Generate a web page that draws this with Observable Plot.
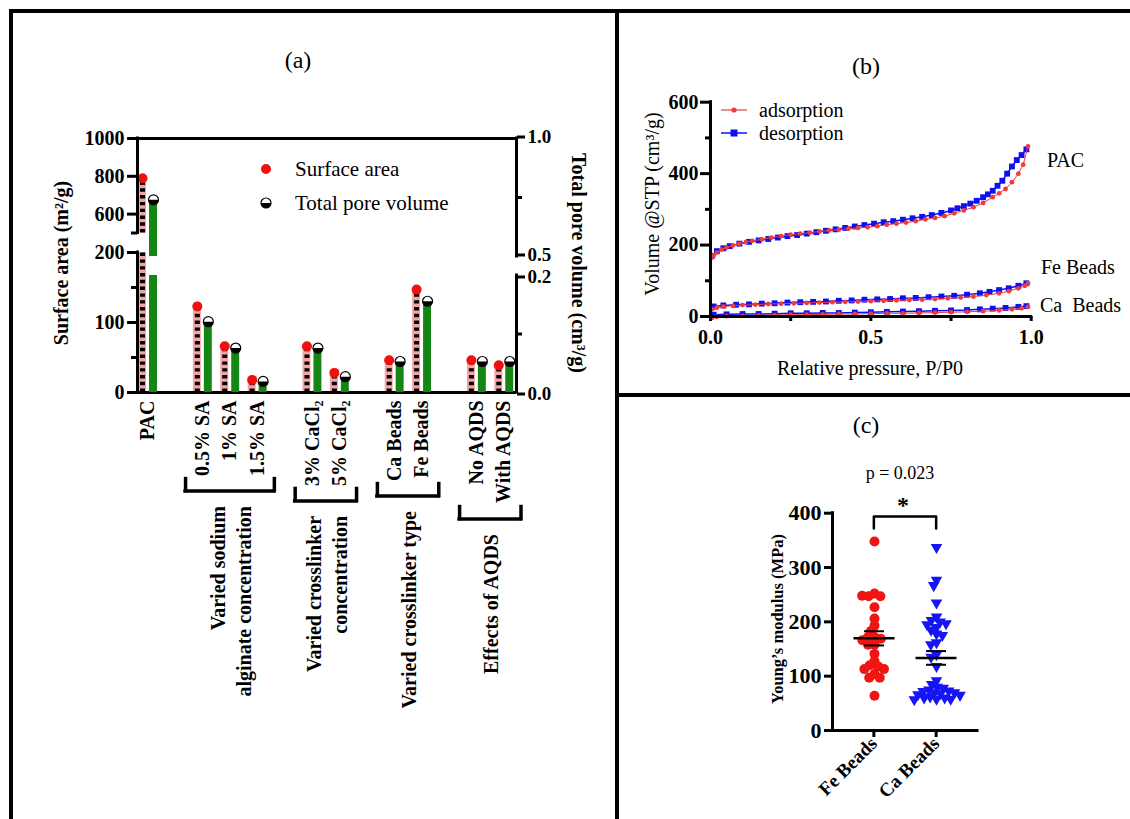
<!DOCTYPE html>
<html>
<head>
<meta charset="utf-8">
<script src="https://cdn.jsdelivr.net/npm/d3@7"></script>
<script src="https://cdn.jsdelivr.net/npm/@observablehq/plot@0.6"></script>
<style>
  html, body { margin: 0; padding: 0; background: #fff; }
  #fig { position: relative; width: 1130px; height: 819px; overflow: hidden; background: #fff;
         font-family: "Liberation Serif", "Times New Roman", serif; color: #000; }
  .rule { position: absolute; background: #000; }
  .lbl { position: absolute; white-space: pre; line-height: 1; }
</style>
</head>
<body>
<div id="fig"></div>
<script>
// ================= DATA =================
// (a) surface area / total pore volume
const categories = ["PAC", "0.5% SA", "1% SA", "1.5% SA", "3% CaCl₂", "5% CaCl₂", "Ca Beads", "Fe Beads", "No AQDS", "With AQDS"];
const categoryGroup = [0, 1, 1, 1, 2, 2, 3, 3, 4, 4];
const groupTitles = ["", "Varied sodium\nalginate concentration", "Varied crosslinker\nconcentration", "Varied crosslinker type", "Effects of AQDS"];
const surfaceArea = [790, 123, 66, 18, 66, 28, 46, 147, 46, 39];
const poreVolume = [0.74, 0.121, 0.076, 0.019, 0.076, 0.027, 0.053, 0.156, 0.053, 0.053];
const surfaceTicks = [0, 100, 200, 600, 800, 1000];
const surfaceMinorTicks = [50, 150, 500];
const surfaceBreak = [200, 500];
const surfaceMax = 1000;
const poreTicksLower = [0, 0.2];
const poreTicksUpper = [0.5, 1.0];
const poreMinorTicks = [0.1, 0.75];
const poreBreak = [0.2, 0.5];
const poreMax = 1.0;

// (b) N2 isotherms
const pressureTicks = [0, 0.5, 1.0];
const pressureMinorTicks = [0.25, 0.75];
const volumeTicks = [0, 200, 400, 600];
const volumeMinorTicks = [100, 300, 500];
const pacAdsP = [0.005, 0.01, 0.02, 0.035, 0.05, 0.07, 0.09, 0.11, 0.13, 0.16, 0.19, 0.22, 0.25, 0.28, 0.31, 0.34, 0.37, 0.40, 0.43, 0.46, 0.49, 0.52, 0.55, 0.58, 0.61, 0.64, 0.67, 0.70, 0.73, 0.76, 0.79, 0.82, 0.85, 0.88, 0.90, 0.92, 0.94, 0.96, 0.975, 0.99];
const pacAdsV = [165, 171, 179, 187, 193, 199, 204, 208, 212, 216, 221, 225, 229, 232, 235, 238, 241, 243, 246, 248, 250, 253, 257, 260, 263, 267, 272, 276, 281, 289, 297, 306, 318, 334, 345, 357, 376, 400, 425, 476];
const pacDesP = [0.985, 0.97, 0.955, 0.94, 0.925, 0.91, 0.895, 0.88, 0.865, 0.85, 0.83, 0.81, 0.79, 0.77, 0.75, 0.72, 0.69, 0.66, 0.63, 0.60, 0.57, 0.54, 0.51, 0.48, 0.45, 0.42, 0.39, 0.36, 0.33, 0.30, 0.27, 0.24, 0.21, 0.18, 0.15, 0.12, 0.09, 0.06, 0.04, 0.02, 0.005];
const pacDesV = [468, 452, 438, 420, 400, 380, 366, 352, 342, 334, 324, 316, 309, 303, 297, 290, 284, 279, 275, 271, 267, 264, 260, 256, 252, 248, 244, 240, 236, 232, 228, 225, 221, 217, 213, 209, 204, 197, 191, 183, 170];
const feAdsP = [0.005, 0.02, 0.04, 0.07, 0.10, 0.14, 0.18, 0.22, 0.26, 0.30, 0.34, 0.38, 0.42, 0.46, 0.50, 0.54, 0.58, 0.62, 0.66, 0.70, 0.74, 0.78, 0.82, 0.86, 0.90, 0.93, 0.96, 0.98, 0.99];
const feAdsV = [20, 25, 28, 30, 32, 33, 35, 36, 37, 38, 39, 40, 41, 42, 43, 44, 45, 46, 47, 49, 51, 53, 56, 60, 65, 71, 79, 86, 93];
const feDesP = [0.985, 0.96, 0.93, 0.90, 0.87, 0.84, 0.80, 0.76, 0.72, 0.68, 0.64, 0.60, 0.56, 0.52, 0.48, 0.44, 0.40, 0.36, 0.32, 0.28, 0.24, 0.20, 0.16, 0.12, 0.08, 0.04, 0.01];
const feDesV = [93, 86, 79, 74, 69, 65, 61, 58, 56, 54, 52, 51, 49, 48, 47, 45, 44, 42, 41, 40, 39, 37, 36, 34, 33, 31, 28];
const caAdsP = [0.005, 0.02, 0.05, 0.10, 0.15, 0.20, 0.25, 0.30, 0.35, 0.40, 0.45, 0.50, 0.55, 0.60, 0.65, 0.70, 0.75, 0.80, 0.85, 0.90, 0.94, 0.97, 0.99];
const caAdsV = [-4, -1, 1, 2, 3, 4, 5, 5, 6, 7, 7, 8, 9, 9, 10, 11, 12, 13, 15, 17, 20, 23, 27];
const caDesP = [0.985, 0.96, 0.92, 0.88, 0.84, 0.80, 0.75, 0.70, 0.65, 0.60, 0.55, 0.50, 0.45, 0.40, 0.35, 0.30, 0.25, 0.20, 0.15, 0.10, 0.05, 0.01];
const caDesV = [29, 27, 24, 22, 20, 18, 17, 16, 15, 14, 13, 12, 11, 10, 10, 9, 9, 8, 7, 7, 6, 5];

// (c) Young's modulus
const beadTypes = ["Fe Beads", "Ca Beads"];
const feModulus = [348, 252, 247, 247, 248, 227, 206, 193, 183, 172, 172, 169, 166, 158, 158, 141, 128, 120, 118, 113, 113, 104, 97, 97, 64];
const caModulus = [337, 277, 267, 235, 209, 203, 200, 197, 195, 190, 185, 178, 175, 162, 158, 140, 135, 118, 92, 85, 80, 78, 75, 73, 72, 70, 70, 68, 66, 65, 62, 60, 60, 58, 58, 57];
const modulusTicks = [0, 100, 200, 300, 400];
const pValueText = "p = 0.023";

// ================= STYLE =================
const FONT = "Liberation Serif, Times New Roman, serif";
const PINK = "#f4a4a4", GREEN = "#138613", RED = "#f01010";
const ISO_RED = "#ef3b3b", ISO_BLUE = "#1010ee";
const FE_RED = "#f01515", CA_BLUE = "#1515f5";
const W = 1130, H = 819;
const fig = document.getElementById("fig");

function place(el) { el.style.position = "absolute"; el.style.left = "0px"; el.style.top = "0px"; fig.appendChild(el); return el; }
function rule(x, y, w, h) { const d = document.createElement("div"); d.className = "rule"; Object.assign(d.style, {left: x + "px", top: y + "px", width: w + "px", height: h + "px"}); fig.appendChild(d); }
function label(txt, x, y, o = {}) {
  const d = document.createElement("div"); d.className = "lbl"; d.textContent = txt;
  const size = o.size || 20; d.style.fontSize = size + "px"; d.style.fontWeight = o.bold ? "bold" : "normal";
  d.style.left = x + "px"; d.style.top = y + "px";
  const tx = o.align === "left" ? "0" : "-50%";
  d.style.transform = `translate(${tx},-50%)` + (o.rotate ? ` rotate(${o.rotate}deg)` : "");
  if (o.align === "left") d.style.transformOrigin = "0 50%";
  fig.appendChild(d); return d;
}
function glyph(x, y, w, h, inner) {
  const s = document.createElementNS("http://www.w3.org/2000/svg", "svg");
  s.setAttribute("width", w); s.setAttribute("height", h);
  s.style.position = "absolute"; s.style.left = (x - w / 2) + "px"; s.style.top = (y - h / 2) + "px"; s.style.overflow = "visible";
  s.innerHTML = inner; fig.appendChild(s);
}

// ================= PANEL (a) =================
// broken axes: values -> continuous display units (lower segment, gap, upper segment)
const saAxis = d3.scaleLinear().domain([0, surfaceBreak[0], surfaceBreak[1], surfaceMax]).range([0, 140, 159.5, 254]);
const pvAxis = d3.scaleLinear().domain([0, poreBreak[0], poreBreak[1], poreMax]).range([0, 117, 136, 254]);
const displayTop = 254;

const slot = categories.map((c, i) => i + categoryGroup[i]);   // one empty slot between groups
const nSlots = slot[slot.length - 1] + 1;
const rows = categories.map((c, i) => ({cat: c, slot: slot[i], sa: surfaceArea[i], pv: poreVolume[i], group: categoryGroup[i]}));
function segments(v, brk) { const s = [{lo: 0, hi: Math.min(v, brk[0])}]; if (v > brk[1]) s.push({lo: brk[1], hi: v}); return s; }
const saSegs = rows.flatMap(r => segments(r.sa, surfaceBreak).map(s => ({...s, slot: r.slot})));
const pvSegs = rows.flatMap(r => segments(r.pv, poreBreak).map(s => ({...s, slot: r.slot})));
const xDom = [-0.374, nSlots - 1 + 0.456];

const halfDisc = {draw(ctx, size) { const r = Math.sqrt(size / Math.PI); ctx.moveTo(r, 0); ctx.arc(0, 0, r, 0, Math.PI); ctx.closePath(); }};

// label widths for bracket placement
const cv = document.createElement("canvas").getContext("2d");
cv.font = `bold 20px "Liberation Serif", serif`;
const bracketMarks = [];
for (let g = 1; g < groupTitles.length; g++) {
  const members = rows.filter(r => r.group === g);
  const first = members[0].slot, last = members[members.length - 1].slot;
  const maxW = d3.max(members, r => cv.measureText(r.cat).width);
  const off = 8 + maxW + 3 + 12;
  const ends = [first - 0.62, last + 0.62];
  bracketMarks.push(
    Plot.ruleY([0], {x1: ends[0], x2: ends[1], dy: off, strokeWidth: 3.5, strokeLinecap: "square"}),
    Plot.ruleX(ends, {x: d => d, y1: 0, y2: 0, insetTop: -12, dy: off, strokeWidth: 3.5, strokeLinecap: "square"}),
    Plot.text([groupTitles[g]], {x: (first + last) / 2, y: 0, text: d => d, rotate: -90, textAnchor: "end", lineAnchor: "middle", lineHeight: 1.27, dy: off + 15, fontSize: 20, fontWeight: "bold"})
  );
}

const dimsA = {width: W, height: H, marginLeft: 137, marginRight: W - 516, marginTop: 138, marginBottom: H - 392};
const plotA = Plot.plot({
  ...dimsA,
  style: {background: "transparent", fontFamily: FONT, fontSize: "20px", overflow: "visible"},
  x: {domain: xDom, axis: null},
  y: {domain: [0, displayTop], label: null},
  marks: [
    Plot.rectY(saSegs, {x1: d => d.slot - 0.335, x2: d => d.slot - 0.045, y1: d => saAxis(d.lo), y2: d => saAxis(d.hi), fill: PINK}),
    Plot.ruleX(saSegs, {x: d => d.slot - 0.19, y1: d => saAxis(d.lo), y2: d => saAxis(d.hi), stroke: "#000", strokeWidth: 5, strokeDasharray: "3.4 3.4"}),
    Plot.dot(rows, {x: d => d.slot - 0.19, y: d => saAxis(d.sa), r: 5, fill: RED}),
    Plot.ruleX([[0, surfaceBreak[0]], [surfaceBreak[1], surfaceMax]], {x: xDom[0], y1: d => saAxis(d[0]), y2: d => saAxis(d[1]), strokeWidth: 3, strokeLinecap: "square"}),
    Plot.ruleY([0, surfaceMax], {y: d => saAxis(d), strokeWidth: 3}),
    Plot.axisY(surfaceTicks.map(saAxis), {anchor: "left", tickSize: 10, tickPadding: 3, strokeWidth: 3, fontSize: 20, fontWeight: "bold", tickFormat: d => `${Math.round(saAxis.invert(d))}`, label: null}),
    Plot.axisY(surfaceMinorTicks.map(saAxis), {anchor: "left", tickSize: 6, strokeWidth: 3, tickFormat: () => "", label: null}),
    Plot.text(rows, {x: "slot", y: 0, text: "cat", rotate: -90, textAnchor: "end", dy: 8, fontSize: 20, fontWeight: "bold"}),
    ...bracketMarks
  ]
});
place(plotA);

const poreFmt = d => pvAxis.invert(d).toFixed(1);
const plotB = Plot.plot({
  ...dimsA,
  style: {background: "transparent", fontFamily: FONT, fontSize: "20px", overflow: "visible"},
  x: {domain: xDom, axis: null},
  y: {domain: [0, displayTop], label: null},
  marks: [
    Plot.rectY(pvSegs, {x1: d => d.slot + 0.065, x2: d => d.slot + 0.355, y1: d => pvAxis(d.lo), y2: d => pvAxis(d.hi), fill: GREEN}),
    Plot.dot(rows, {x: d => d.slot + 0.21, y: d => pvAxis(d.pv), r: 5, fill: "white", stroke: "black", strokeWidth: 1.2}),
    Plot.dot(rows, {x: d => d.slot + 0.21, y: d => pvAxis(d.pv), r: 5, symbol: halfDisc, fill: "black"}),
    Plot.ruleX([[0, poreBreak[0]], [poreBreak[1], poreMax]], {x: xDom[1], y1: d => pvAxis(d[0]), y2: d => pvAxis(d[1]), strokeWidth: 3, strokeLinecap: "square"}),
    Plot.axisY(poreTicksUpper.map(pvAxis), {anchor: "right", tickSize: 8, tickPadding: 3, strokeWidth: 3, fontSize: 19, fontWeight: "bold", tickFormat: poreFmt, label: null, textStroke: "none", dy: -1.5}),
    Plot.axisY(poreTicksLower.map(pvAxis), {anchor: "right", tickSize: 8, tickPadding: 3, strokeWidth: 3, fontSize: 19, fontWeight: "bold", tickFormat: poreFmt, label: null, dy: 1.5}),
    Plot.axisY(poreMinorTicks.map(pvAxis), {anchor: "right", tickSize: 5, strokeWidth: 3, tickFormat: () => "", label: null})
  ]
});
place(plotB);

// ================= PANEL (b) =================
const iso = [];
function addIso(sample, branch, P, V) { P.forEach((p, i) => iso.push({sample, branch, p, v: V[i]})); }
addIso("PAC", "desorption", pacDesP, pacDesV);
addIso("Fe Beads", "desorption", feDesP, feDesV);
addIso("Ca Beads", "desorption", caDesP, caDesV);
addIso("PAC", "adsorption", pacAdsP, pacAdsV);
addIso("Fe Beads", "adsorption", feAdsP, feAdsV);
addIso("Ca Beads", "adsorption", caAdsP, caAdsV);
const des = iso.filter(d => d.branch === "desorption"), ads = iso.filter(d => d.branch === "adsorption");

const plotIso = Plot.plot({
  width: W, height: H, marginLeft: 710, marginRight: W - 1030.7, marginTop: 101.7, marginBottom: H - 316,
  style: {background: "transparent", fontFamily: FONT, fontSize: "20px", overflow: "visible"},
  x: {domain: [0, 1], label: null},
  y: {domain: [0, 600], label: null},
  marks: [
    Plot.line(des, {x: "p", y: "v", z: "sample", stroke: ISO_BLUE, strokeWidth: 1.5}),
    Plot.dot(des, {x: "p", y: "v", symbol: "square", r: 3.3, fill: ISO_BLUE}),
    Plot.line(ads, {x: "p", y: "v", z: "sample", stroke: ISO_RED, strokeWidth: 1}),
    Plot.dot(ads, {x: "p", y: "v", r: 2.4, fill: ISO_RED}),
    Plot.ruleX([0], {strokeWidth: 3, strokeLinecap: "square"}),
    Plot.ruleY([0], {strokeWidth: 3, strokeLinecap: "square"}),
    Plot.axisY(volumeTicks, {tickSize: 10, tickPadding: 2, strokeWidth: 3, fontSize: 20, fontWeight: "bold", label: null}),
    Plot.axisY(volumeMinorTicks, {tickSize: 5, strokeWidth: 3, tickFormat: () => "", label: null}),
    Plot.axisX(pressureTicks, {tickSize: 5, tickPadding: 8, strokeWidth: 3, fontSize: 20, fontWeight: "bold", tickFormat: ".1f", label: null}),
    Plot.axisX(pressureMinorTicks, {tickSize: 5, strokeWidth: 3, tickFormat: () => "", label: null})
  ]
});
place(plotIso);

// ================= PANEL (c) =================
const modRows = [...feModulus.map(v => ({group: beadTypes[0], v})), ...caModulus.map(v => ({group: beadTypes[1], v}))];
const stats = beadTypes.map((g, i) => {
  const vals = modRows.filter(d => d.group === g).map(d => d.v);
  const m = d3.mean(vals), se = d3.deviation(vals) / Math.sqrt(vals.length);
  return {group: g, i, mean: m, lo: m - se, hi: m + se};
});
const bandPadOuter = 0.164;
const cDom = [-0.5 - bandPadOuter, beadTypes.length - 0.5 + bandPadOuter];
const cDims = {width: W, height: H, marginLeft: 832, marginRight: W - 977, marginTop: 512.7, marginBottom: H - 730};
const bracketTop = 394, bracketLeg = 372;

const plotC = Plot.plot({
  ...cDims,
  style: {background: "transparent", fontFamily: FONT, fontSize: "20px", overflow: "visible"},
  x: {domain: cDom, label: null},
  y: {domain: [0, 400], label: null},
  marks: [
    Plot.ruleX([cDom[0]], {strokeWidth: 3, strokeLinecap: "square"}),
    Plot.ruleY([0], {strokeWidth: 3, strokeLinecap: "square"}),
    Plot.axisY(modulusTicks, {tickSize: 8, tickPadding: 3, strokeWidth: 3, fontSize: 22, fontWeight: "bold", label: null}),
    Plot.axisX(beadTypes.map((g, i) => i), {tickSize: 7, tickPadding: 3, strokeWidth: 3, tickRotate: -45, fontSize: 19, fontWeight: "bold", tickFormat: i => beadTypes[i], label: null}),
    Plot.line([[0, bracketLeg], [0, bracketTop], [1, bracketTop], [1, bracketLeg]], {x: d => d[0], y: d => d[1], strokeWidth: 2.5})
  ]
});
place(plotC);

const triDown = {draw(ctx, size) {
  const y = -Math.sqrt(size / (3 * Math.sqrt(3)));
  ctx.moveTo(0, -2 * y); ctx.lineTo(-Math.sqrt(3) * y, y); ctx.lineTo(Math.sqrt(3) * y, y); ctx.closePath();
}};

const plotCDots = Plot.plot({
  ...cDims,
  style: {background: "transparent", fontFamily: FONT, overflow: "visible"},
  fx: {domain: beadTypes, paddingInner: 0, paddingOuter: bandPadOuter, axis: null, label: null},
  y: {domain: [0, 400], axis: null},
  marks: [
    Plot.dot(modRows.filter(d => d.group === beadTypes[0]), Plot.dodgeX({anchor: "middle", padding: -3.5}, {fx: "group", y: "v", r: 5, fill: FE_RED})),
    Plot.dot(modRows.filter(d => d.group === beadTypes[1]), Plot.dodgeX({anchor: "middle", padding: -2.5}, {fx: "group", y: "v", r: 4.3, symbol: triDown, fill: CA_BLUE})),
    Plot.ruleY(stats, {fx: "group", y: "mean", insetLeft: 10.5, insetRight: 10.5, strokeWidth: 2.5}),
    Plot.ruleX(stats, {fx: "group", y1: "lo", y2: "hi", strokeWidth: 2}),
    Plot.ruleY(stats, {fx: "group", y: "lo", insetLeft: 21, insetRight: 21, strokeWidth: 2}),
    Plot.ruleY(stats, {fx: "group", y: "hi", insetLeft: 21, insetRight: 21, strokeWidth: 2})
  ]
});
place(plotCDots);

// ================= FRAME, TITLES, LEGENDS =================
rule(9, 9, W - 9, 4);
rule(9, 9, 4, H - 9);
rule(615, 9, 4, H - 9);
rule(615, 393, W - 615, 4);

label("(a)", 298, 60, {size: 24});
label("(b)", 866, 66, {size: 24});
label("(c)", 866, 425, {size: 24});

label("Surface area (m²/g)", 61, 263, {bold: true, rotate: -90});
label("Total pore volume (cm³/g)", 579, 263, {bold: true, rotate: 90});
glyph(265.7, 169, 12, 12, `<circle cx="6" cy="6" r="5" fill="${RED}"/>`);
glyph(265.7, 203.3, 12, 12, `<circle cx="6" cy="6" r="5" fill="white" stroke="black" stroke-width="1.2"/><path d="M1,6 A5,5 0 0 0 11,6 Z" fill="black"/>`);
label("Surface area", 295, 169, {size: 21, align: "left"});
label("Total pore volume", 295, 203, {size: 21, align: "left"});

label("Volume @STP (cm³/g)", 652, 203.5, {rotate: -90});
label("Relative pressure, P/P0", 870, 368);
glyph(734, 110, 26, 10, `<line x1="0" y1="5" x2="26" y2="5" stroke="${ISO_RED}" stroke-width="1.2"/><circle cx="13" cy="5" r="2.6" fill="${ISO_RED}"/>`);
glyph(734, 133, 26, 10, `<line x1="0" y1="5" x2="26" y2="5" stroke="${ISO_BLUE}" stroke-width="1.5"/><rect x="9.5" y="1.5" width="7" height="7" fill="${ISO_BLUE}"/>`);
label("adsorption", 759, 110, {align: "left"});
label("desorption", 759, 133, {align: "left"});
label("PAC", 1047, 160, {align: "left"});
label("Fe Beads", 1041, 267, {align: "left"});
label("Ca  Beads", 1040, 305, {align: "left"});

label("Young’s modulus (MPa)", 777.5, 619, {bold: true, size: 16.5, rotate: -90});
label(pValueText, 900, 473, {size: 18});
label("*", 903, 505, {size: 24, bold: true});
</script>
</body>
</html>
